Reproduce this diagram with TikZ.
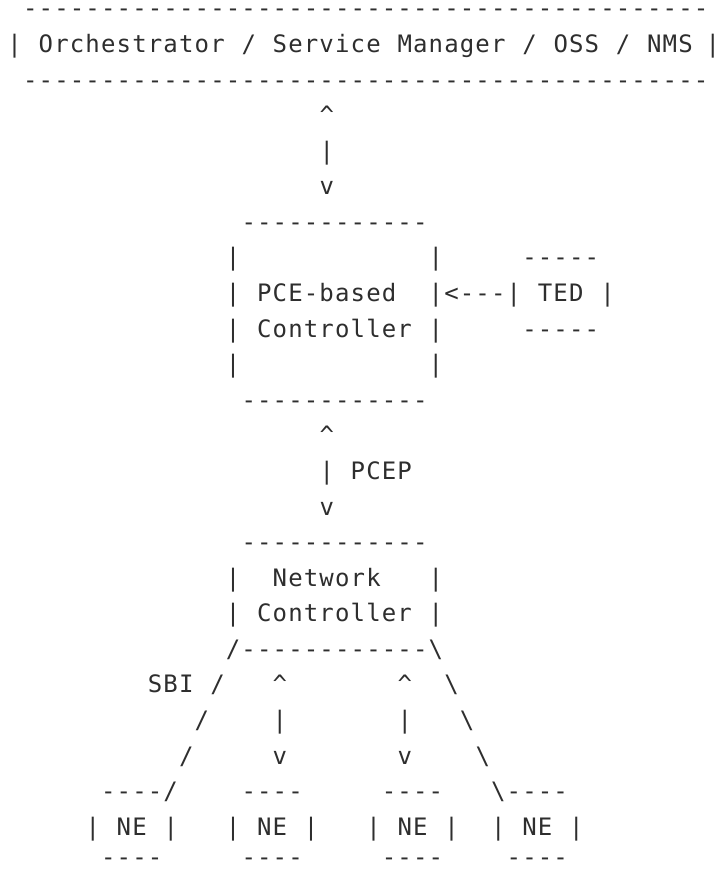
\documentclass[tikz,border=0pt]{standalone}
\usepackage{fontspec}
\setmonofont{DejaVu Sans Mono}[LetterSpace=4.8]
\definecolor{ink}{HTML}{2E2E2E}
\tikzset{asc/.style={inner sep=0pt, outer sep=0pt, anchor=base west,
  font=\ttfamily\fontsize{24}{24}\selectfont, text=ink}}
\newcommand\cell[3]{\node[asc] (r#1c#2) at ({7.5pt+15.6pt*#2}, {-52.5pt-35.58pt*(#1-1)}) {#3};}
% bottom row: kept just inside the lower edge
\newcommand\lowcell[2]{\node[asc] (r24c#1) at ({7.5pt+15.6pt*#1}, -865.2pt) {#2};}
\newcommand\dd{------------}% 12 dashes
\newcommand\topline{\dd\dd\dd--------}% 44 dashes
\begin{document}
\begin{tikzpicture}
\fill[white] (0,0) rectangle (722pt,-871pt);
\useasboundingbox (0,0) rectangle (722pt,-871pt);
% Orchestrator box
\cell{0}{1}{\topline}
\cell{1}{0}{|}\cell{1}{2}{Orchestrator}\cell{1}{15}{/}\cell{1}{17}{Service}
\cell{1}{25}{Manager}\cell{1}{33}{/}\cell{1}{35}{OSS}\cell{1}{39}{/}
\cell{1}{41}{NMS}
\node[asc] (r1c45) at (705.5pt,{-52.5pt}) {|};
\cell{2}{1}{\topline}
\cell{3}{20}{\textasciicircum}
\cell{4}{20}{|}
\cell{5}{20}{v}
% PCE-based controller
\cell{6}{15}{\dd}
\cell{7}{14}{|}\cell{7}{27}{|}\cell{7}{33}{-----}
\cell{8}{14}{|}\cell{8}{16}{PCE-based}\cell{8}{27}{|<---|}\cell{8}{34}{TED}\cell{8}{38}{|}
\cell{9}{14}{|}\cell{9}{16}{Controller}\cell{9}{27}{|}\cell{9}{33}{-----}
\cell{10}{14}{|}\cell{10}{27}{|}
\cell{11}{15}{\dd}
\cell{12}{20}{\textasciicircum}
\cell{13}{20}{|}\cell{13}{22}{PCEP}
\cell{14}{20}{v}
% Network controller
\cell{15}{15}{\dd}
\cell{16}{14}{|}\cell{16}{17}{Network}\cell{16}{27}{|}
\cell{17}{14}{|}\cell{17}{16}{Controller}\cell{17}{27}{|}
\cell{18}{14}{/\dd\textbackslash}
\cell{19}{9}{SBI}\cell{19}{13}{/}\cell{19}{17}{\textasciicircum}\cell{19}{25}{\textasciicircum}\cell{19}{28}{\textbackslash}
\cell{20}{12}{/}\cell{20}{17}{|}\cell{20}{25}{|}\cell{20}{29}{\textbackslash}
\cell{21}{11}{/}\cell{21}{17}{v}\cell{21}{25}{v}\cell{21}{30}{\textbackslash}
% NEs
\cell{22}{6}{----/}\cell{22}{15}{----}\cell{22}{24}{----}\cell{22}{31}{\textbackslash----}
\cell{23}{5}{|}\cell{23}{7}{NE}\cell{23}{10}{|}
\cell{23}{14}{|}\cell{23}{16}{NE}\cell{23}{19}{|}
\cell{23}{23}{|}\cell{23}{25}{NE}\cell{23}{28}{|}
\cell{23}{31}{|}\cell{23}{33}{NE}\cell{23}{36}{|}
\lowcell{6}{----}\lowcell{15}{----}\lowcell{24}{----}\lowcell{32}{----}
\end{tikzpicture}
\end{document}
